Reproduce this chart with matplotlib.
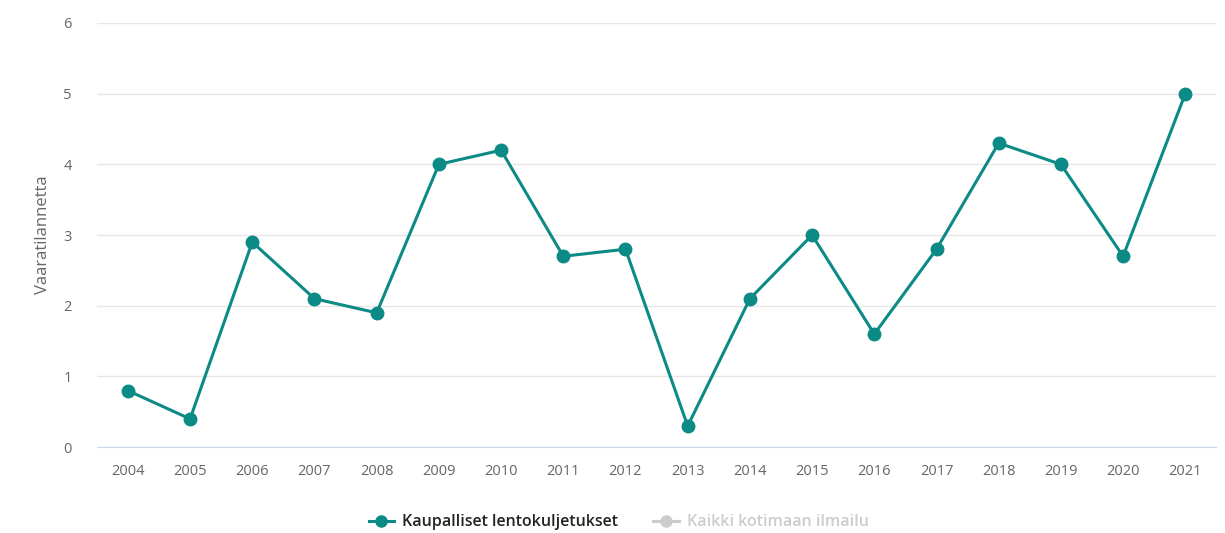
import matplotlib

matplotlib.use("Agg")
import matplotlib.pyplot as plt
from matplotlib.lines import Line2D

years = ["2004", "2005", "2006", "2007", "2008", "2009", "2010", "2011", "2012",
         "2013", "2014", "2015", "2016", "2017", "2018", "2019", "2020", "2021"]
kaupalliset = [0.8, 0.4, 2.9, 2.1, 1.9, 4.0, 4.2, 2.7, 2.8,
               0.3, 2.1, 3.0, 1.6, 2.8, 4.3, 4.0, 2.7, 5.0]
y_ticks = [0, 1, 2, 3, 4, 5, 6]

TEAL = "#0b8a86"
GREY_TXT = "#666666"

plt.rcParams["font.family"] = ["Open Sans", "DejaVu Sans"]

fig = plt.figure(figsize=(12.25, 5.33), dpi=100)
ax = fig.add_axes([0.079, 0.161, 0.914, 0.796])

x = list(range(len(years)))
ax.plot(x, kaupalliset, color=TEAL, lw=2.2, marker="o", ms=9, zorder=3)

ax.set_xlim(-0.5, len(years) - 0.5)
ax.set_ylim(0, 6)
ax.set_yticks(y_ticks)
ax.set_xticks(x)
ax.set_xticklabels(years)
ax.grid(axis="y", color="#e6e6e6", lw=1)
ax.set_axisbelow(True)
for side in ("left", "right", "top"):
    ax.spines[side].set_visible(False)
ax.spines["bottom"].set_color("#ccd6eb")
ax.tick_params(axis="both", length=0, colors=GREY_TXT, labelsize=10.5)
ax.tick_params(axis="x", pad=12)
ax.tick_params(axis="y", pad=18)
ax.set_ylabel("Vaaratilannetta", fontsize=12, color=GREY_TXT, labelpad=9)

handles = [
    Line2D([], [], color=TEAL, lw=2.2, marker="o", ms=8),
    Line2D([], [], color="#cccccc", lw=2.2, marker="o", ms=8),
]
leg = fig.legend(handles, ["Kaupalliset lentokuljetukset", "Kaikki kotimaan ilmailu"],
                 loc="center", bbox_to_anchor=(0.505, 0.02), ncol=2, frameon=False,
                 fontsize=11.5, handlelength=1.6, columnspacing=2.2, handletextpad=0.5)
leg.get_texts()[0].set_color("#222222")
leg.get_texts()[0].set_fontweight("semibold")
leg.get_texts()[1].set_color("#cccccc")
leg.get_texts()[1].set_fontweight("semibold")

fig.savefig("out.png", dpi=100)
